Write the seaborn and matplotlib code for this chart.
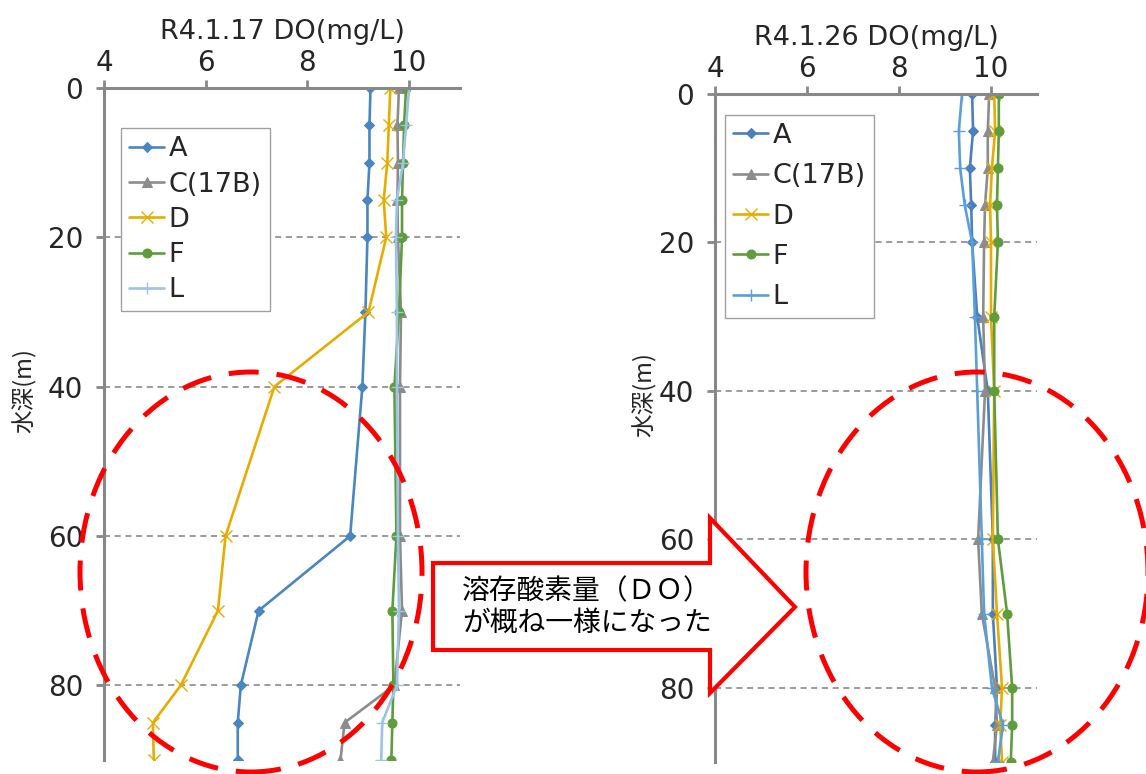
import numpy as np
import pandas as pd
import matplotlib
matplotlib.use('Agg')
import matplotlib.pyplot as plt
import seaborn as sns
from matplotlib.patches import Ellipse, Polygon

sns.set_theme(style='white')
plt.rcParams['font.family'] = ['DejaVu Sans', 'Noto Sans CJK JP']
JP = ['Noto Sans CJK JP', 'DejaVu Sans']

# 水深 (m)
depth = [0, 5, 10, 15, 20, 30, 40, 60, 70, 80, 85, 90]
stations = ['A', 'C(17B)', 'D', 'F', 'L']

# R4.1.17
do_0117_A = [9.24, 9.22, 9.22, 9.18, 9.18, 9.14, 9.08, 8.84, 7.04, 6.69, 6.63, 6.63]
do_0117_C = [9.80, 9.77, 9.78, 9.77, 9.78, 9.84, 9.82, 9.82, 9.86, 9.71, 8.73, 8.65]
do_0117_D = [9.63, 9.60, 9.57, 9.50, 9.55, 9.20, 7.35, 6.39, 6.24, 5.51, 4.96, 4.98]
do_0117_F = [9.94, 9.90, 9.88, 9.86, 9.86, 9.80, 9.71, 9.75, 9.67, 9.69, 9.67, 9.65]
do_0117_L = [10.00, 9.94, 9.88, 9.76, 9.74, 9.76, 9.76, 9.78, 9.80, 9.76, 9.47, 9.45]

# R4.1.26
do_0126_A = [9.59, 9.61, 9.54, 9.57, 9.59, 9.70, 9.93, 10.04, 10.04, 10.13, 10.09, 10.09]
do_0126_C = [9.96, 9.93, 9.93, 9.87, 9.85, 9.83, 9.87, 9.72, 9.80, 10.09, 10.13, 10.04]
do_0126_D = [10.07, 10.09, 10.02, 9.98, 10.00, 10.00, 10.07, 10.04, 10.13, 10.24, 10.20, 10.24]
do_0126_F = [10.17, 10.17, 10.15, 10.13, 10.15, 10.07, 10.07, 10.15, 10.35, 10.46, 10.46, 10.43]
do_0126_L = [9.37, 9.30, 9.33, 9.43, 9.59, 9.65, 9.70, 9.80, 9.85, 10.02, 10.26, 10.15]

data_0117 = [do_0117_A, do_0117_C, do_0117_D, do_0117_F, do_0117_L]
data_0126 = [do_0126_A, do_0126_C, do_0126_D, do_0126_F, do_0126_L]

markers = {'A': 'D', 'C(17B)': '^', 'D': 'x', 'F': 'o', 'L': '+'}
msizes = {'A': 5, 'C(17B)': 7, 'D': 8, 'F': 6.5, 'L': 9}
colors_0117 = {'A': '#4a86c0', 'C(17B)': '#8c8c8c', 'D': '#e6ac00', 'F': '#5f9c3c', 'L': '#9dc3e6'}
colors_0126 = {'A': '#4a80bb', 'C(17B)': '#8c8c8c', 'D': '#e6ac00', 'F': '#5f9c3c', 'L': '#5a9fd8'}

AXIS_GRAY = '#888888'

fig = plt.figure(figsize=(11.46, 7.74), dpi=100)
ax1 = fig.add_axes([104/1146, 14/774, 356/1146, 672/774])
ax2 = fig.add_axes([715/1146, 12/774, 322/1146, 668/774])


def draw_panel(ax, values, colors, title, leg_anchor, leg_spacing):
    for st, vals in zip(stations, values):
        df = pd.DataFrame({'DO': vals, 'depth': depth})
        mk = markers[st]
        kw = dict(markeredgecolor=colors[st], markerfacecolor=colors[st])
        if mk in ('x', '+'):
            kw['markeredgewidth'] = 1.0
        sns.lineplot(data=df, x='DO', y='depth', ax=ax, sort=False, orient='y',
                     color=colors[st], marker=mk, markersize=msizes[st],
                     linewidth=1.9, label=st, **kw)
    ax.set_xlim(4, 11)
    ax.set_ylim(90, 0)
    ax.set_xticks([4, 6, 8, 10])
    ax.set_yticks([0, 20, 40, 60, 80])
    ax.xaxis.tick_top()
    ax.xaxis.set_label_position('top')
    ax.set_xlabel(title, fontsize=19.5, labelpad=7)
    ax.set_ylabel('水深(m)', fontsize=17, family=JP)
    for s in ['right', 'bottom']:
        ax.spines[s].set_visible(False)
    for s in ['top', 'left']:
        ax.spines[s].set_color(AXIS_GRAY)
        ax.spines[s].set_linewidth(2.2)
    ax.tick_params(axis='both', which='major', labelsize=20, length=6, width=2,
                   color=AXIS_GRAY, direction='out')
    ax.tick_params(axis='x', top=True, bottom=False, pad=2)
    ax.tick_params(axis='y', left=True, pad=9)
    for d in [20, 40, 60, 80]:
        ax.axhline(d, color='#808080', linestyle=(0, (4, 3)), linewidth=1.1, zorder=0)
    ax.grid(False)
    leg = ax.legend(loc='upper left', bbox_to_anchor=leg_anchor, borderaxespad=0,
                    fontsize=19.5, frameon=True, fancybox=False, framealpha=1,
                    edgecolor='#a0a0a0', handlelength=1.3, handletextpad=0.15,
                    labelspacing=leg_spacing, borderpad=0.3)
    leg.get_frame().set_linewidth(1.0)
    leg.set_zorder(5)


draw_panel(ax1, data_0117, colors_0117, 'R4.1.17 DO(mg/L)', (0.048, 0.94), 0.34)
draw_panel(ax2, data_0126, colors_0126, 'R4.1.26 DO(mg/L)', (0.031, 0.969), 0.53)

ax1.yaxis.set_label_coords(-0.188, 0.55)
ax2.yaxis.set_label_coords(-0.18, 0.55)

W, H = 1146, 774
# 赤い点線の楕円
for cx in [251, 977]:
    e = Ellipse((cx / W, 1 - 572 / H), 342 / W, 400 / H, transform=fig.transFigure,
                fill=False, edgecolor='#ff0000', linewidth=3.6,
                linestyle=(0, (6, 3.6)), zorder=10)
    fig.patches.append(e)

# 矢印
pts = [(433, 563), (710, 563), (710, 518), (795, 607), (710, 693), (710, 650), (433, 650)]
arrow = Polygon([(x / W, 1 - y / H) for x, y in pts], closed=True, transform=fig.transFigure,
                facecolor='white', edgecolor='#ff0000', linewidth=3, zorder=11)
fig.patches.append(arrow)
fig.text(462 / W, 1 - 607 / H, '溶存酸素量（ＤＯ）\nが概ね一様になった', fontsize=20,
         family=JP, ha='left', va='center', linespacing=1.05, color='black', zorder=12)

plt.savefig('out.png', dpi=100)
